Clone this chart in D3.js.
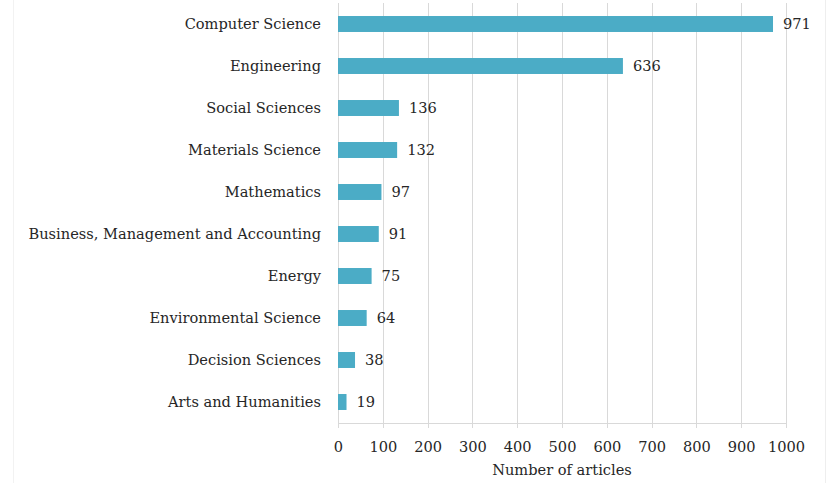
<!DOCTYPE html>
<html>
<head>
<meta charset="utf-8">
<script src="https://cdn.jsdelivr.net/npm/d3@7"></script>
<style>
  body { margin: 0; background: #fff; }
  text { font-family: "DejaVu Serif", "Liberation Serif", serif; fill: #262626; }
</style>
</head>
<body>
<div id="chart"></div>
<script>
(function() {
  'use strict';

  var svgW = 829,
    svgH = 483;

  // data
  var subjects = ['Computer Science', 'Engineering', 'Social Sciences', 'Materials Science',
    'Mathematics', 'Business, Management and Accounting', 'Energy',
    'Environmental Science', 'Decision Sciences', 'Arts and Humanities'];
  var articles = [971, 636, 136, 132, 97, 91, 75, 64, 38, 19];
  var xTicks = [0, 100, 200, 300, 400, 500, 600, 700, 800, 900, 1000];

  var margin = { top: 3, right: 43, bottom: 60, left: 338 };
  var plotW = svgW - margin.left - margin.right,
    plotH = svgH - margin.top - margin.bottom;
  var fontSize = '14.6px';

  var rows = subjects.map(function(s, i) {
    return { name: s, value: articles[i] };
  });

  var svg = d3.select('#chart')
    .append('svg')
    .attr('width', svgW)
    .attr('height', svgH);

  // faint frame lines at the image edges
  svg.append('line').attr('x1', 13.5).attr('x2', 13.5).attr('y1', 0).attr('y2', svgH)
    .attr('stroke', '#f2f2f2');
  svg.append('line').attr('x1', 825.5).attr('x2', 825.5).attr('y1', 0).attr('y2', svgH)
    .attr('stroke', '#eeeeee');

  var g = svg.append('g')
    .attr('transform', 'translate(' + margin.left + ',' + margin.top + ')');

  var x = d3.scaleLinear().domain([0, 1000]).range([0, plotW]);
  var y = d3.scaleBand().domain(subjects).range([0, plotH])
    .paddingInner(0.62).paddingOuter(0.31);

  // vertical gridlines
  g.selectAll('.grid')
    .data(xTicks)
    .enter()
    .append('line')
    .attr('class', 'grid')
    .attr('x1', function(d) { return Math.round(x(d)) + 0.5; })
    .attr('x2', function(d) { return Math.round(x(d)) + 0.5; })
    .attr('y1', 0)
    .attr('y2', plotH + 5)
    .attr('stroke', '#d9d9d9');

  // bottom axis
  var xAxis = d3.axisBottom(x).tickValues(xTicks).tickFormat(d3.format('d'))
    .tickSize(0).tickPadding(19);
  var ax = g.append('g')
    .attr('transform', 'translate(0,' + plotH + ')')
    .call(xAxis);
  ax.select('.domain').attr('stroke', '#d9d9d9');
  ax.selectAll('text')
    .style('font-size', fontSize)
    .style('font-family', '"DejaVu Serif", serif')
    .attr('fill', '#262626');

  g.append('text')
    .attr('x', plotW / 2)
    .attr('y', plotH + 52)
    .attr('text-anchor', 'middle')
    .style('font-size', fontSize)
    .text('Number of articles');

  // bars
  g.selectAll('.bar')
    .data(rows)
    .enter()
    .append('rect')
    .attr('class', 'bar')
    .attr('x', 0)
    .attr('y', function(d) { return y(d.name); })
    .attr('width', function(d) { return x(d.value); })
    .attr('height', y.bandwidth())
    .attr('fill', '#4bacc6');

  // value labels
  g.selectAll('.val')
    .data(rows)
    .enter()
    .append('text')
    .attr('class', 'val')
    .attr('x', function(d) { return x(d.value) + 10; })
    .attr('y', function(d) { return y(d.name) + y.bandwidth() / 2; })
    .attr('dy', '0.35em')
    .style('font-size', fontSize)
    .text(function(d) { return d.value; });

  // category labels
  g.selectAll('.cat')
    .data(rows)
    .enter()
    .append('text')
    .attr('class', 'cat')
    .attr('x', -17)
    .attr('y', function(d) { return y(d.name) + y.bandwidth() / 2; })
    .attr('dy', '0.35em')
    .attr('text-anchor', 'end')
    .style('font-size', fontSize)
    .text(function(d) { return d.name; });

}());
</script>
</body>
</html>
